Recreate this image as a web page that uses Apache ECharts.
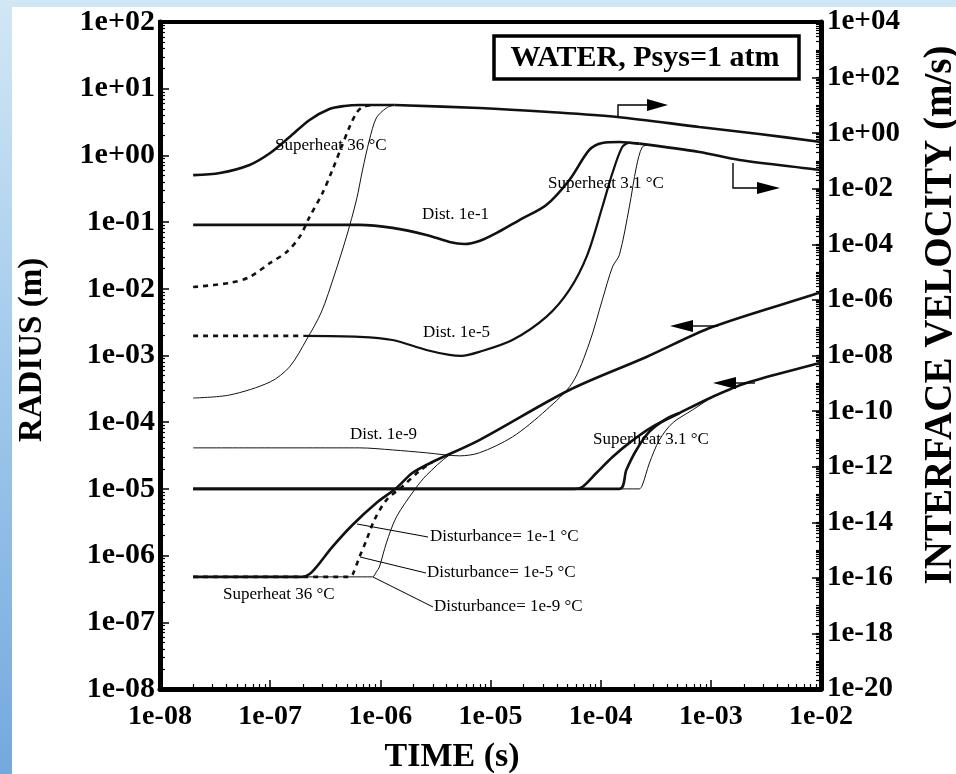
<!DOCTYPE html>
<html>
<head>
<meta charset="utf-8">
<script src="https://cdn.jsdelivr.net/npm/echarts@6/dist/echarts.min.js"></script>
<style>
html, body { margin: 0; padding: 0; width: 956px; height: 774px; overflow: hidden;
  background: linear-gradient(to bottom, #d2e7f5 0%, #a4cbec 45%, #74a9de 100%); }
#panel { position: absolute; left: 12px; top: 7px; right: 0; bottom: 0; background: #fff; }
#chart { position: absolute; left: 0; top: 0; width: 956px; height: 774px; }
</style>
</head>
<body>
<div id="panel"></div>
<div id="chart"></div>
<script>
// tick labels
const xTickLabels = ['1e-08', '1e-07', '1e-06', '1e-05', '1e-04', '1e-03', '1e-02'];
const radiusTickLabels = ['1e-08', '1e-07', '1e-06', '1e-05', '1e-04', '1e-03', '1e-02', '1e-01', '1e+00', '1e+01', '1e+02'];
const velocityTickLabels = ['1e-20', '1e-18', '1e-16', '1e-14', '1e-12', '1e-10', '1e-08', '1e-06', '1e-04', '1e-02', '1e+00', '1e+02', '1e+04'];

// radius (m), superheat 36 C  -- [time, radius]
const r36Dist1 = [[2e-8, 4.8e-7], [1.96e-7, 4.8e-7], [2.28e-7, 5.3e-7], [2.63e-7, 6.75e-7], [3.67e-7, 1.35e-6], [5.58e-7, 2.88e-6], [9.2e-7, 6.15e-6], [1.4e-6, 1.03e-5], [1.95e-6, 1.73e-5], [2.97e-6, 2.53e-5], [7.92e-6, 5.4e-5], [5.2e-5, 3.04e-4], [2.6e-4, 9.5e-4], [1.03e-3, 2.67e-3], [8.34e-3, 8.07e-3], [1e-2, 8.9e-3]];
const r36Dist5 = [[2e-8, 4.8e-7], [5.25e-7, 4.8e-7], [5.6e-7, 5.2e-7], [6.46e-7, 9.5e-7], [7.48e-7, 1.71e-6], [8.83e-7, 3.42e-6], [1.135e-6, 6.8e-6], [1.6e-6, 1.1e-5], [2.26e-6, 1.85e-5], [2.97e-6, 2.53e-5]];
const r36Dist9 = [[2e-8, 4.8e-7], [8.47e-7, 4.8e-7], [9.2e-7, 5.7e-7], [9.8e-7, 6.75e-7], [1.135e-6, 1.55e-6], [1.4e-6, 3.8e-6], [2.1e-6, 1.03e-5], [2.62e-6, 1.6e-5], [4.24e-6, 3.22e-5], [7.92e-6, 5.4e-5]];

// radius (m), superheat 3.1 C
const r3Dist1 = [[2e-8, 1e-5], [5.77e-5, 1e-5], [6.82e-5, 1.07e-5], [9.14e-5, 1.73e-5], [1.28e-4, 3.0e-5], [1.82e-4, 4.9e-5], [2.94e-4, 8.5e-5], [5.18e-4, 1.37e-4], [1.03e-3, 2.39e-4], [2.1e-3, 3.87e-4], [8.34e-3, 7.2e-4], [1e-2, 7.7e-4]];
const r3Dist5 = [[2e-8, 1e-5], [1.48e-4, 1e-5], [1.71e-4, 1.92e-5], [2.11e-4, 3.83e-5], [2.77e-4, 7.2e-5], [3.94e-4, 1.12e-4], [5.18e-4, 1.37e-4]];
const r3Dist9 = [[2e-8, 1e-5], [2.24e-4, 1e-5], [2.39e-4, 1.14e-5], [2.77e-4, 2.44e-5], [3.41e-4, 5.4e-5], [4.48e-4, 9.7e-5], [6.79e-4, 1.52e-4], [1.03e-3, 2.39e-4]];

// interface velocity (m/s), superheat 36 C
const v36Dist1 = [[2e-8, 0.031], [3.5e-8, 0.037], [6.5e-8, 0.072], [1e-7, 0.194], [1.5e-7, 0.73], [2.28e-7, 2.99], [3.45e-7, 7.4], [4.72e-7, 9.5], [6.46e-7, 10.3], [1.34e-6, 10.3]];
const v36Dist5 = [[2e-8, 2.9e-6], [4.3e-8, 4.1e-6], [6.5e-8, 6.7e-6], [1e-7, 2.14e-5], [1.41e-7, 5.3e-5], [1.85e-7, 1.85e-4], [2.28e-7, 9.7e-4], [2.99e-7, 7.1e-3], [3.67e-7, 0.047], [4.44e-7, 0.319], [5.25e-7, 1.67], [6.07e-7, 5.33], [6.89e-7, 8.76], [8.47e-7, 10.3]];
const v36Dist9 = [[2e-8, 2.95e-10], [4.3e-8, 3.8e-10], [1e-7, 1.12e-9], [1.5e-7, 3.9e-9], [2.13e-7, 3.6e-8], [2.92e-7, 3.7e-7], [3.83e-7, 7.9e-6], [4.92e-7, 1.85e-4], [6.07e-7, 3.95e-3], [6.89e-7, 0.047], [7.96e-7, 0.57], [9.2e-7, 3.52], [1.135e-6, 8.06], [1.34e-6, 10.3]];
const v36Tail = [[1.34e-6, 10.3], [7.92e-6, 8.06], [3.42e-5, 5.8], [1.42e-4, 3.83], [7.87e-4, 1.67], [2.75e-3, 0.935], [1e-2, 0.48]];

// interface velocity (m/s), superheat 3.1 C
const v3Dist1 = [[2e-8, 5e-4], [6.46e-7, 5e-4], [1.29e-6, 3.9e-4], [2.62e-6, 2.18e-4], [4.24e-6, 1.22e-4], [5.8e-6, 1.03e-4], [7.92e-6, 1.32e-4], [1.2e-5, 2.9e-4], [1.83e-5, 7.5e-4], [3.21e-5, 2.6e-3], [5.2e-5, 0.0207], [7.89e-5, 0.249], [1.035e-4, 0.444], [1.48e-4, 0.48], [2.24e-4, 0.42]];
const v3Dist5Start = [[2e-8, 5.07e-8], [2e-7, 5.07e-8]];
const v3Dist5 = [[2e-7, 5.07e-8], [6.46e-7, 4.7e-8], [1.29e-6, 3.6e-8], [2.62e-6, 1.58e-8], [4.24e-6, 1.05e-8], [5.45e-6, 9.7e-9], [7.92e-6, 1.35e-8], [1.58e-5, 3.6e-8], [3.21e-5, 2.45e-7], [5.2e-5, 2.3e-6], [7.57e-5, 4.2e-5], [1.035e-4, 2.2e-3], [1.28e-4, 0.037], [1.57e-4, 0.319], [1.82e-4, 0.444], [2.24e-4, 0.42]];
const v3Dist9 = [[2e-8, 4.75e-12], [6.46e-7, 4.75e-12], [1.29e-6, 4e-12], [2.62e-6, 3.15e-12], [5.22e-6, 2.45e-12], [7.92e-6, 3.15e-12], [1.58e-5, 1.17e-11], [3.21e-5, 1.1e-10], [5.53e-5, 1.03e-9], [7.89e-5, 2.8e-8], [1.035e-4, 1e-6], [1.28e-4, 1.54e-5], [1.48e-4, 4.2e-5], [1.82e-4, 2.2e-3], [2.11e-4, 0.061], [2.39e-4, 0.319], [2.77e-4, 0.377]];
const v3Tail = [[2.24e-4, 0.42], [7.87e-4, 0.211], [1.82e-3, 0.109], [8.34e-3, 0.0515], [1e-2, 0.047]];

const serif = '"Liberation Serif", "Times New Roman", serif';
const INK = '#111';

// line styles
const THICK = { color: INK, width: 2.6 };
const THIN = { color: INK, width: 1 };
const DASH = { color: INK, width: 2.6, type: [5, 5] };

const curves = [
  [r36Dist1, 0, THICK], [r36Dist5, 0, DASH], [r36Dist9, 0, THIN],
  [r3Dist1, 0, THICK], [r3Dist5, 0, THICK], [r3Dist9, 0, THIN],
  [v36Dist1, 1, THICK], [v36Dist5, 1, DASH], [v36Dist9, 1, THIN], [v36Tail, 1, THICK],
  [v3Dist1, 1, THICK], [v3Dist5Start, 1, DASH], [v3Dist5, 1, { color: INK, width: 2.2 }], [v3Dist9, 1, THIN], [v3Tail, 1, THICK]
];

function minorValues(lo, hi, from) {
  const out = [];
  for (let e = lo; e < hi; e++) {
    for (let m = from; m <= 9; m++) out.push(m * Math.pow(10, e));
  }
  return out;
}

const labelFont = { fontFamily: serif, fontWeight: 'bold', color: '#000' };

function mainAxis(extra) {
  return Object.assign({
    type: 'log',
    logBase: 10,
    axisLine: { show: true, lineStyle: { color: '#000', width: 5 } },
    axisTick: { show: true, inside: true, length: 9, lineStyle: { color: '#000', width: 1.5 } },
    splitLine: { show: false },
    minorTick: { show: false },
  }, extra);
}

function minorAxis(extra, values) {
  return Object.assign({
    type: 'log',
    logBase: 10,
    axisLine: { show: false },
    axisLabel: { show: false },
    splitLine: { show: false },
    axisTick: { show: true, inside: true, length: 5, customValues: values, lineStyle: { color: '#000', width: 1.2 } },
  }, extra);
}

const chart = echarts.init(document.getElementById('chart'), null, { renderer: 'canvas' });

const graphics = [];
// axis titles
graphics.push({ type: 'text', x: 32, y: 350, rotation: Math.PI / 2,
  style: { text: 'RADIUS (m)', font: 'bold 33px ' + serif, fill: '#000', align: 'center', verticalAlign: 'middle' } });
graphics.push({ type: 'text', x: 941, y: 315, rotation: Math.PI / 2,
  style: { text: 'INTERFACE VELOCITY (m/s)', font: 'bold 39px ' + serif, fill: '#000', align: 'center', verticalAlign: 'middle' } });
graphics.push({ type: 'text', x: 452, y: 757,
  style: { text: 'TIME (s)', font: 'bold 34px ' + serif, fill: '#000', align: 'center', verticalAlign: 'middle' } });

// title box
graphics.push({ type: 'rect', shape: { x: 494, y: 36, width: 305, height: 43 },
  style: { fill: '#fff', stroke: '#000', lineWidth: 3.5 } });
graphics.push({ type: 'text', x: 645, y: 58,
  style: { text: 'WATER, Psys=1 atm', font: 'bold 30px ' + serif, fill: '#000', align: 'center', verticalAlign: 'middle' } });

// curve annotations [text, x, y]
const notes = [
  ['Superheat 36 °C', 275, 146],
  ['Dist. 1e-1', 422, 215],
  ['Dist. 1e-5', 423, 333],
  ['Dist. 1e-9', 350, 435],
  ['Superheat 3.1 °C', 548, 184],
  ['Superheat 3.1 °C', 593, 440],
  ['Superheat 36 °C', 223, 595],
  ['Disturbance= 1e-1 °C', 430, 537],
  ['Disturbance= 1e-5 °C', 427, 573],
  ['Disturbance= 1e-9 °C', 434, 607]
];
notes.forEach(n => graphics.push({ type: 'text', x: n[1], y: n[2], z: 10,
  style: { text: n[0], font: '17px ' + serif, fill: '#000', align: 'left', verticalAlign: 'middle' } }));

// leader lines to the disturbance labels
const leaders = [[[357, 524], [428, 537]], [[360, 557], [426, 573]], [[373, 577], [433, 607]]];
leaders.forEach(l => graphics.push({ type: 'polyline', z: 10, shape: { points: l }, style: { stroke: '#000', lineWidth: 1 } }));

// arrows showing which axis a curve uses
const arrows = [
  { path: [[618, 117], [618, 105], [650, 105]], head: [[647, 99], [668, 105], [647, 111]] },
  { path: [[733, 163], [733, 188], [760, 188]], head: [[757, 182], [780, 188], [757, 194]] },
  { path: [[718, 326], [690, 326]], head: [[693, 320], [670, 326], [693, 332]] },
  { path: [[755, 383], [733, 383]], head: [[736, 377], [713, 383], [736, 389]] }
];
arrows.forEach(a => {
  graphics.push({ type: 'polyline', z: 10, shape: { points: a.path }, style: { stroke: '#000', lineWidth: 1.4 } });
  graphics.push({ type: 'polygon', z: 10, shape: { points: a.head }, style: { fill: '#000' } });
});

chart.setOption({
  backgroundColor: 'transparent',
  animation: false,
  grid: { left: 160, right: 135, top: 22, bottom: 85, show: true, borderColor: '#000', borderWidth: 4 },
  xAxis: [
    mainAxis({ min: 1e-8, max: 1e-2, position: 'bottom', interval: 1,
      axisLabel: Object.assign({ fontSize: 28, margin: 14, formatter: v => xTickLabels[Math.round(Math.log10(v)) + 8] }, labelFont) }),
    minorAxis({ min: 1e-8, max: 1e-2, position: 'bottom' }, minorValues(-8, -2, 2))
  ],
  yAxis: [
    mainAxis({ min: 1e-8, max: 1e2, position: 'left', interval: 1,
      axisLabel: Object.assign({ fontSize: 30, margin: 5, formatter: v => radiusTickLabels[Math.round(Math.log10(v)) + 8] }, labelFont) }),
    mainAxis({ min: 1e-20, max: 1e4, position: 'right', interval: 2,
      axisLabel: Object.assign({ fontSize: 29, margin: 6, formatter: v => velocityTickLabels[(Math.round(Math.log10(v)) + 20) / 2] }, labelFont) }),
    minorAxis({ min: 1e-8, max: 1e2, position: 'left' }, minorValues(-8, 2, 2)),
    minorAxis({ min: 1e-20, max: 1e4, position: 'right' }, minorValues(-20, 4, 1))
  ],
  series: curves.map(c => ({
    type: 'line',
    data: c[0],
    yAxisIndex: c[1],
    xAxisIndex: 0,
    showSymbol: false,
    symbol: 'none',
    smooth: 0.3,
    lineStyle: c[2],
    z: 3
  })),
  graphic: graphics
});

window.onresize = function () { chart.resize(); };
</script>
</body>
</html>
